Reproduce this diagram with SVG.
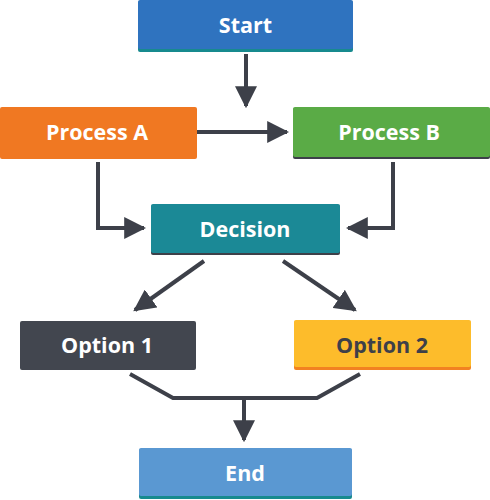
<svg xmlns="http://www.w3.org/2000/svg" width="490" height="500" viewBox="0 0 490 500">
<defs>
<style>
.lbl{font-family:"Open Sans","Liberation Sans",sans-serif;font-weight:700;font-size:21.5px;text-anchor:middle;dominant-baseline:central;fill:#ffffff}
.dk{fill:#3d4049}
.ln{fill:none;stroke:#3d4049;stroke-width:4;stroke-linejoin:miter}
</style>
<marker id="ah" viewBox="0 0 10 10" refX="9" refY="5" markerWidth="5.5" markerHeight="5.5" markerUnits="strokeWidth" orient="auto">
<path d="M0,0 L10,5 L0,10 Z" fill="#3d4049"/>
</marker>
</defs>
<rect width="490" height="500" fill="#ffffff"/>
<g id="connectors">
<line class="ln" x1="246" y1="54" x2="246" y2="106" marker-end="url(#ah)"/>
<line class="ln" x1="197" y1="132" x2="287" y2="132" marker-end="url(#ah)"/>
<polyline class="ln" points="98,162 98,228 144,228" marker-end="url(#ah)"/>
<polyline class="ln" points="393,162 393,228 348,228" marker-end="url(#ah)"/>
<line class="ln" x1="204" y1="261" x2="135" y2="310" marker-end="url(#ah)"/>
<line class="ln" x1="283" y1="261" x2="355" y2="310" marker-end="url(#ah)"/>
<polyline class="ln" points="130,374 173,398 317,398 360,374"/>
<line class="ln" x1="244" y1="398" x2="244" y2="440" marker-end="url(#ah)"/>
</g>
<g id="start">
<rect x="138" y="1" width="215" height="51" rx="2" fill="#178a8e"/>
<rect x="138" y="0" width="215" height="49" rx="2" fill="#2f73bf"/>
<text class="lbl" x="245.5" y="24">Start</text>
</g>
<g id="processA">
<rect x="0" y="107" width="197" height="52" rx="2" fill="#f07822"/>
<text class="lbl" x="97" y="131">Process A</text>
</g>
<g id="processB">
<rect x="293" y="108" width="197" height="51" rx="2" fill="#3d4049"/>
<rect x="293" y="107" width="197" height="50" rx="2" fill="#5aab46"/>
<text class="lbl" x="389" y="131">Process B</text>
</g>
<g id="decision">
<rect x="151" y="205" width="189" height="50" rx="2" fill="#3d4049"/>
<rect x="151" y="204" width="189" height="49" rx="2" fill="#1b8996"/>
<text class="lbl" x="245" y="228">Decision</text>
</g>
<g id="option1">
<rect x="20" y="321" width="176" height="49" rx="2" fill="#42464f"/>
<text class="lbl" x="107" y="344">Option 1</text>
</g>
<g id="option2">
<rect x="294" y="321" width="177" height="49" rx="2" fill="#f28221"/>
<rect x="294" y="320" width="177" height="47" rx="2" fill="#fdbc2b"/>
<text class="lbl dk" x="382" y="344">Option 2</text>
</g>
<g id="end">
<rect x="139" y="449" width="213" height="50" rx="2" fill="#178a8e"/>
<rect x="139" y="448" width="213" height="48" rx="2" fill="#5a98d2"/>
<text class="lbl" x="245" y="472">End</text>
</g>
</svg>
